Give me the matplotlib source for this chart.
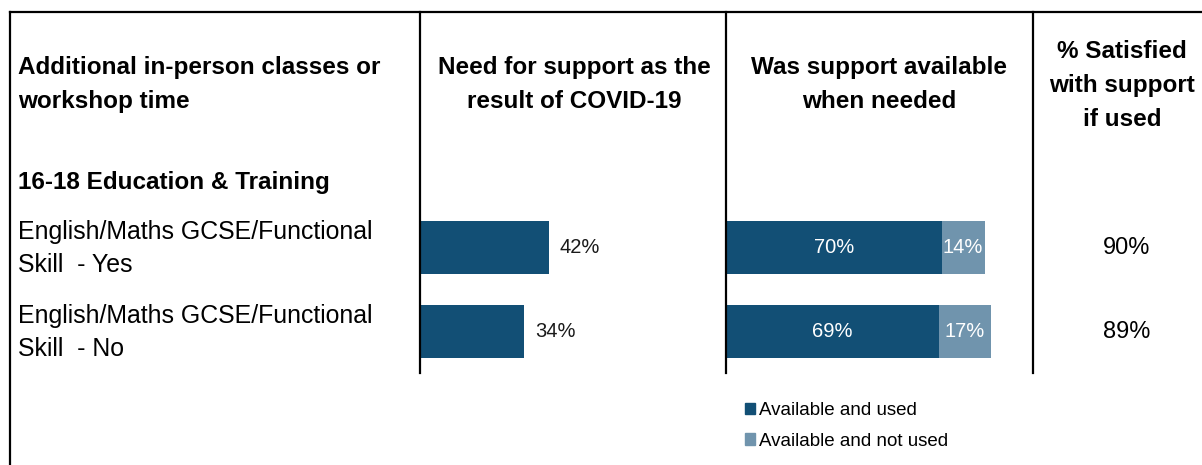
import matplotlib.pyplot as plt
from matplotlib.lines import Line2D
from matplotlib.patches import Patch

plt.rcParams['font.family'] = ['Liberation Sans', 'DejaVu Sans']

# Data
rows = ["English/Maths GCSE/Functional\nSkill  - Yes",
        "English/Maths GCSE/Functional\nSkill  - No"]
need_support = [42, 34]
available_used = [70, 69]
available_not_used = [14, 17]
satisfied = [90, 89]

headings = ["Additional in-person classes or\nworkshop time",
            "Need for support as the\nresult of COVID-19",
            "Was support available\nwhen needed",
            "% Satisfied\nwith support\nif used"]
group_label = "16-18 Education & Training"
legend_labels = ["Available and used", "Available and not used"]

DARK = '#124F75'
LIGHT = '#7094AD'

W, H = 1202, 465
fig = plt.figure(figsize=(W / 100, H / 100), dpi=100)


def fx(x):
    return x / W


def fy(y):
    return 1 - y / H


def vline(x, y0, y1, lw=1.6):
    fig.add_artist(Line2D([fx(x), fx(x)], [fy(y0), fy(y1)], color='black',
                          lw=lw, transform=fig.transFigure))


# Table frame
fig.add_artist(Line2D([fx(10), 1], [fy(12), fy(12)], color='black', lw=1.6,
                      transform=fig.transFigure))
vline(10, 12, H)
for x in (420, 726, 1033):
    vline(x, 12, 373)

# Headings
hs = 17.5
fig.text(fx(18), fy(74), headings[0].split('\n')[0], fontsize=hs, fontweight='bold')
fig.text(fx(18), fy(108), headings[0].split('\n')[1], fontsize=hs, fontweight='bold')
for cx, txt in ((574, headings[1]), (879, headings[2])):
    for i, line in enumerate(txt.split('\n')):
        fig.text(fx(cx), fy(74 + 34 * i), line, fontsize=hs, fontweight='bold',
                 ha='center')
for i, line in enumerate(headings[3].split('\n')):
    fig.text(fx(1122), fy(58 + 34 * i), line, fontsize=hs, fontweight='bold',
             ha='center')
fig.text(fx(18), fy(189), group_label, fontsize=hs, fontweight='bold')

# Row labels
for r, label in enumerate(rows):
    for i, line in enumerate(label.split('\n')):
        fig.text(fx(18), fy(239 + 33 * i + 84 * r), line, fontsize=17.9)

# Bar panels share the same row layout
y_top, y_bot = 205.5, 373.5
ypos = range(len(rows))
bh = 53 / 84

ax1 = fig.add_axes([fx(420), fy(y_bot), fx(726 - 420), (y_bot - y_top) / H])
ax1.barh(ypos, need_support, height=bh, color=DARK)
for y, v in zip(ypos, need_support):
    ax1.annotate(f"{v}%", (v, y), xytext=(8, 0), textcoords='offset points',
                 va='center', ha='left', fontsize=14.5, color='#1a1a1a')

ax2 = fig.add_axes([fx(726), fy(y_bot), fx(1034 - 726), (y_bot - y_top) / H])
ax2.barh(ypos, available_used, height=bh, color=DARK)
ax2.barh(ypos, available_not_used, left=available_used, height=bh, color=LIGHT)
for y, a, b in zip(ypos, available_used, available_not_used):
    ax2.text(a / 2, y, f"{a}%", ha='center', va='center', fontsize=14.5, color='white')
    ax2.text(a + b / 2, y, f"{b}%", ha='center', va='center', fontsize=14.5, color='white')

for ax in (ax1, ax2):
    ax.set_xlim(0, 100)
    ax.set_ylim(1.5, -0.5)
    ax.axis('off')

# Satisfaction column
for r, v in enumerate(satisfied):
    fig.text(fx(1127), fy(247.5 + 84 * r), f"{v}%", fontsize=17, ha='center',
             va='center')

# Legend
handles = [Patch(color=DARK), Patch(color=LIGHT)]
fig.legend(handles, legend_labels, loc='upper left',
           bbox_to_anchor=(fx(745), fy(402)), frameon=False, fontsize=13.5,
           handlelength=0.55, handleheight=0.55, handletextpad=0.18,
           labelspacing=0.72, borderpad=0, borderaxespad=0)

fig.savefig('out.png', dpi=100)
